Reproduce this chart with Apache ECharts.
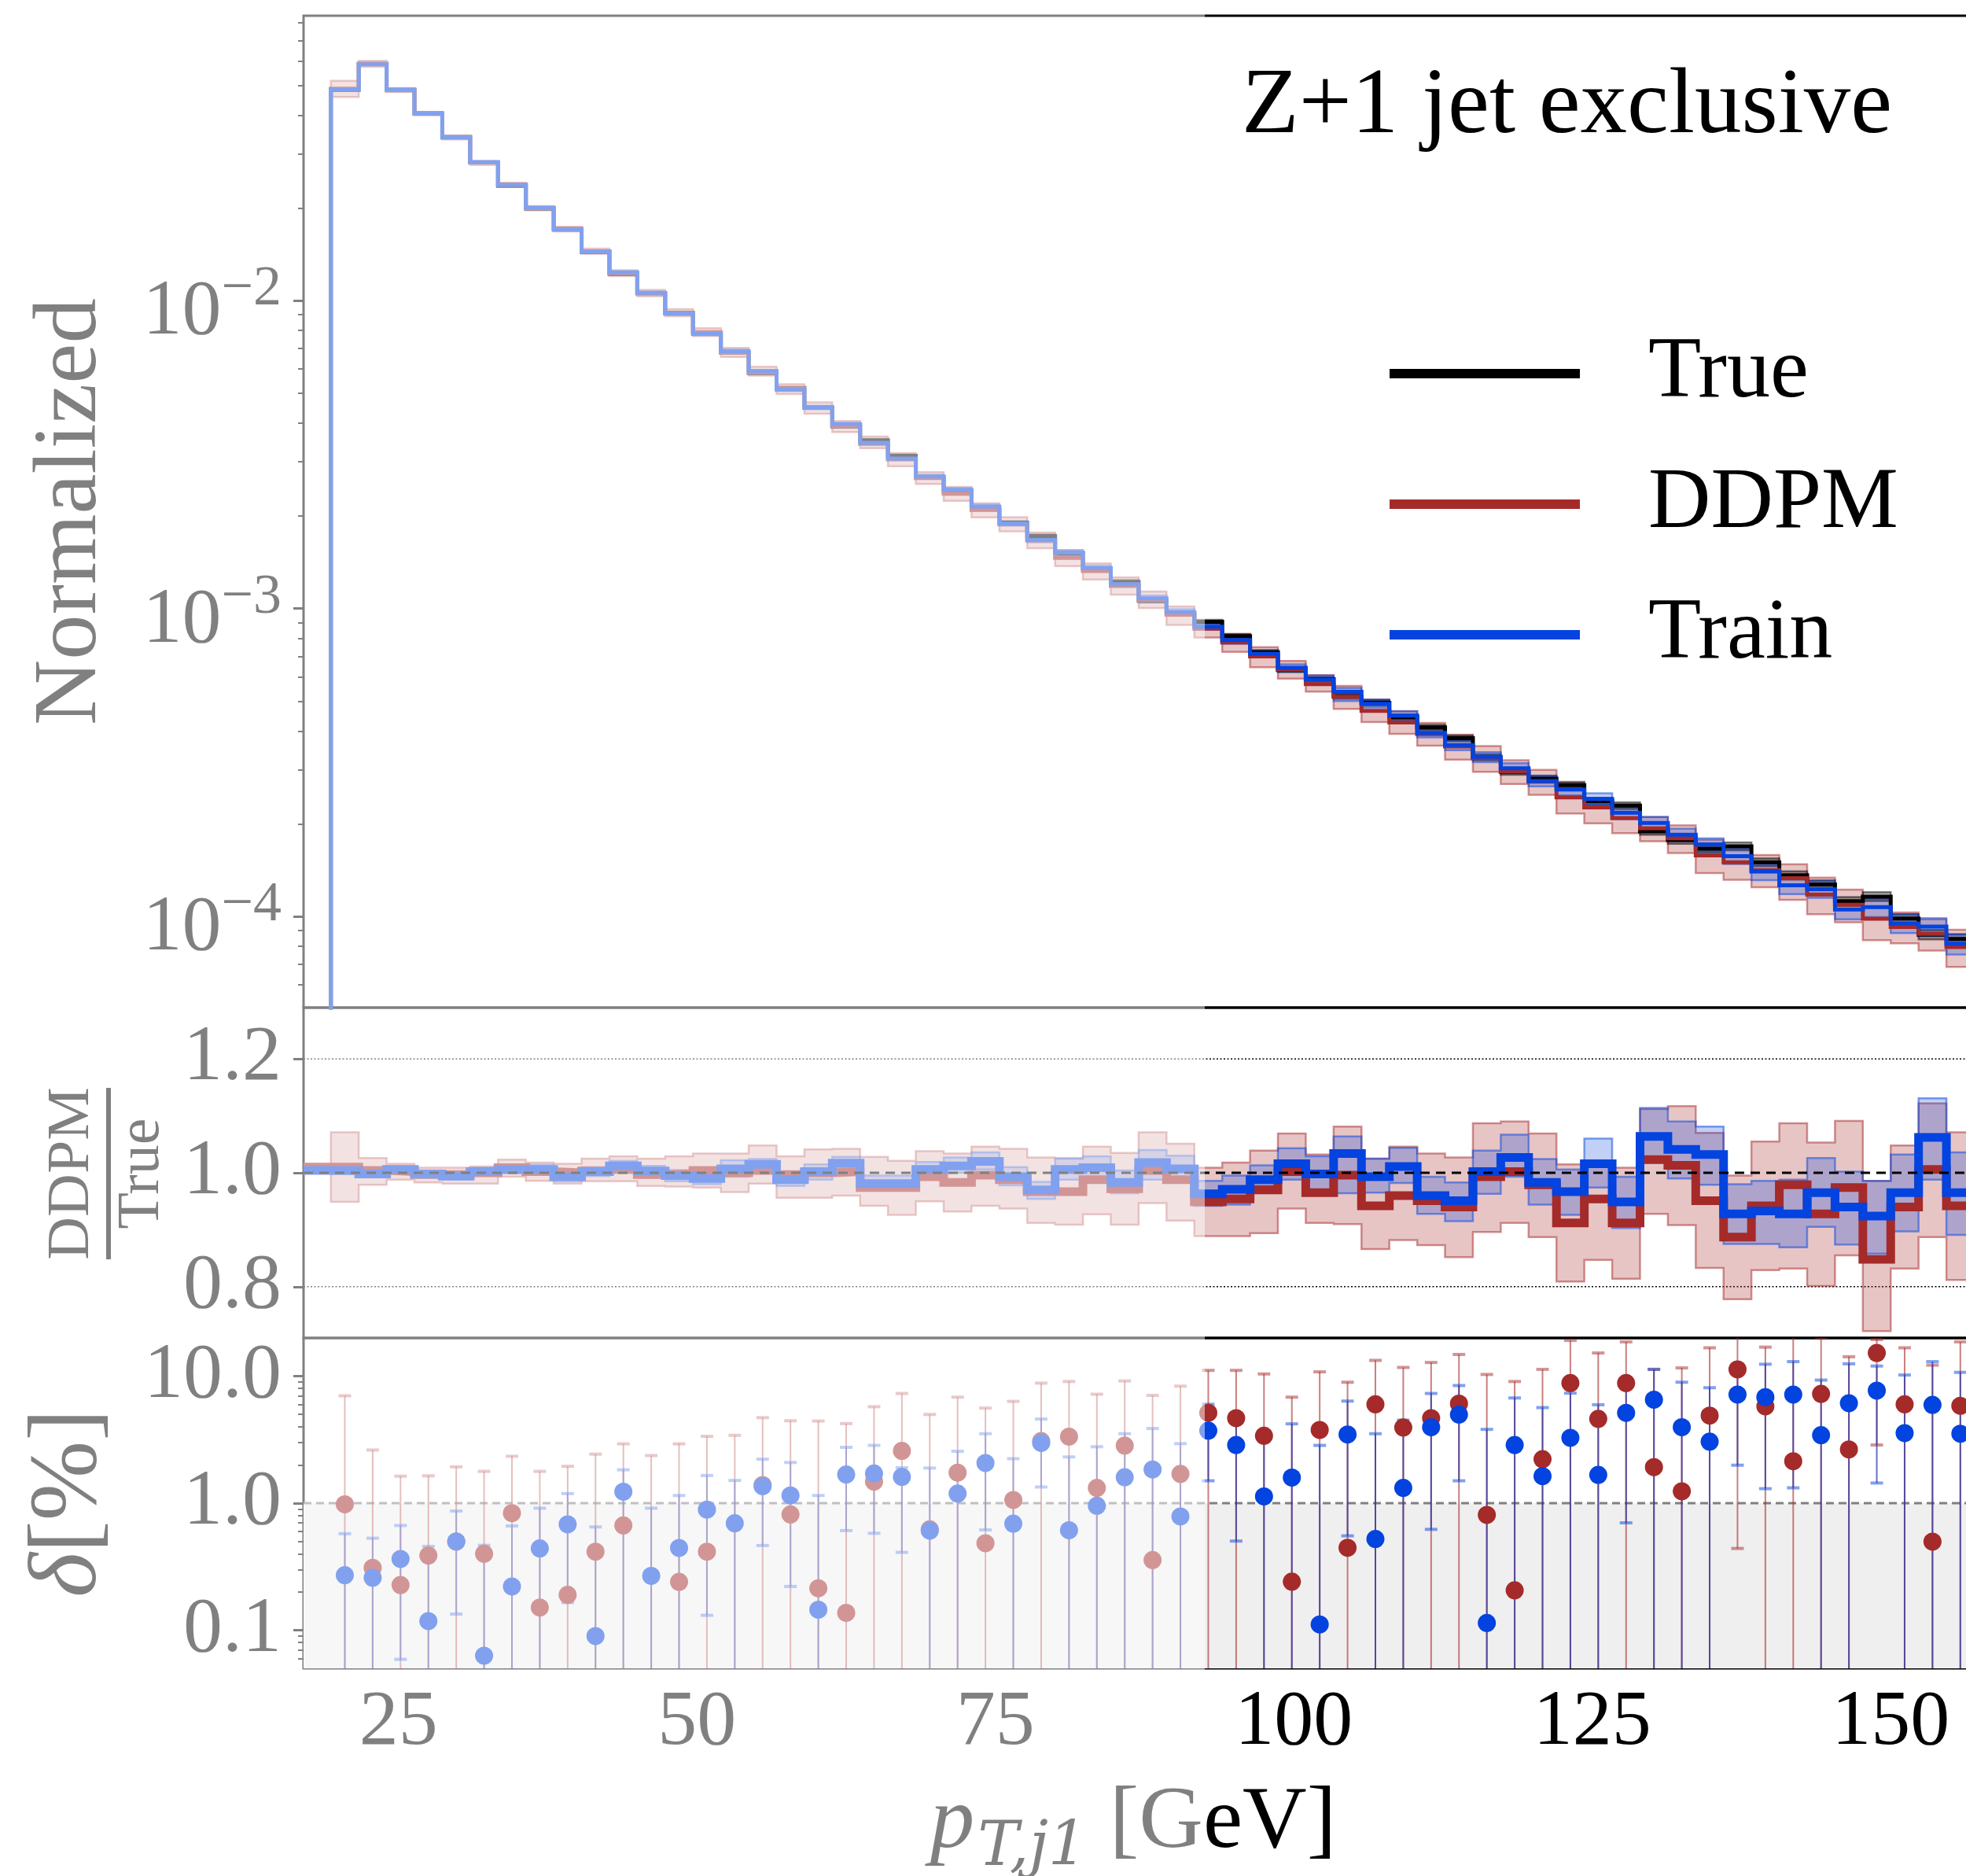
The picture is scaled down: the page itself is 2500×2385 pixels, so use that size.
<!DOCTYPE html>
<html>
<head>
<meta charset="utf-8">
<script src="https://cdn.jsdelivr.net/npm/echarts@6/dist/echarts.min.js"></script>
<style>
  html, body { margin: 0; padding: 0; background: #fff; }
  #chart { width: 2500px; height: 2385px; }
</style>
</head>
<body>
<div id="chart"></div>
<script>
// binning of p_T,j1 in GeV (first edge and width)
const firstEdge = 19.33;
const binWidth = 2.3333;
const nBins = 59;
const binEdges = [];
for (let i = 0; i <= nBins; i++) binEdges.push(+(firstEdge + i * binWidth).toFixed(3));

// normalized true distribution
const trueVals = [0.0483,0.0586,0.0482,0.0406,0.0340,0.0281,0.0236,0.0199,0.0171,0.0144,0.0122,0.01057,0.00912,0.00787,0.00679,0.00582,0.00520,0.00449,0.00390,0.00352,0.00313,0.00267,0.00240,0.00210,0.00190,0.00172,0.00151,0.00134,0.00122,0.00106,0.000966,
  0.000906,0.000813,0.000721,0.000632,0.000589,0.000519,0.000494,0.000444,0.000411,0.000379,0.000329,0.000295,0.000280,0.000267,0.000237,0.000229,0.000189,0.000177,0.000166,0.000169,0.000150,0.000136,0.000127,0.000112,0.000116,0.0000984,0.0000873,0.0000845];
const trueRelErr = [0.003,0.003,0.003,0.003,0.003,0.004,0.004,0.004,0.004,0.005,0.005,0.005,0.006,0.006,0.006,0.007,0.007,0.007,0.008,0.008,0.009,0.009,0.010,0.010,0.011,0.011,0.012,0.012,0.013,0.014,0.014,
  0.015,0.015,0.016,0.017,0.017,0.018,0.019,0.019,0.020,0.021,0.022,0.022,0.023,0.024,0.025,0.025,0.026,0.027,0.028,0.029,0.030,0.031,0.031,0.032,0.033,0.034,0.035,0.036];

// DDPM / True
const ddpmRatio = [1.010,1.004,1.002,0.997,0.997,1.000,1.009,1.002,1.000,1.003,1.006,0.997,0.998,1.004,1.000,1.004,0.997,1.000,1.002,0.974,0.974,0.993,0.983,0.996,0.988,0.967,0.967,0.988,0.972,1.004,0.988,
  0.949,0.954,0.970,1.002,0.965,0.996,0.942,0.960,0.951,0.940,0.993,1.002,0.979,0.912,0.954,0.912,1.023,1.013,0.951,0.887,0.942,0.979,0.928,0.974,0.848,0.940,1.006,0.942];
const ddpmRatioLo = [0.949,0.979,0.988,0.983,0.981,0.981,0.993,0.986,0.981,0.985,0.985,0.977,0.976,0.974,0.966,0.981,0.956,0.956,0.960,0.942,0.926,0.950,0.932,0.942,0.937,0.912,0.909,0.927,0.909,0.947,0.916,
  0.889,0.889,0.894,0.937,0.912,0.910,0.866,0.882,0.873,0.852,0.896,0.912,0.887,0.809,0.847,0.814,0.928,0.908,0.833,0.778,0.829,0.832,0.801,0.855,0.722,0.832,0.887,0.812];
const ddpmRatioHi = [1.071,1.026,1.016,1.009,1.009,1.011,1.023,1.018,1.016,1.025,1.029,1.025,1.029,1.034,1.034,1.048,1.029,1.041,1.042,1.028,1.021,1.038,1.034,1.046,1.042,1.027,1.026,1.046,1.035,1.071,1.051,
  1.009,1.018,1.039,1.069,1.032,1.081,1.025,1.046,1.034,1.027,1.087,1.090,1.069,1.015,1.013,1.009,1.112,1.117,1.070,0.995,1.055,1.087,1.053,1.091,0.986,1.048,1.122,1.071];

// Train / True
const trainRatio = [1.004,0.998,1.006,0.998,0.994,1.002,1.006,1.006,0.993,1.002,1.012,1.003,0.995,0.990,1.007,1.015,0.988,1.002,1.017,0.981,0.981,1.006,1.012,1.020,0.993,0.970,1.006,1.009,0.983,1.018,1.007,
  0.963,0.971,0.988,1.016,0.998,1.034,0.993,1.011,0.960,0.951,1.002,1.027,0.983,0.967,1.016,0.949,1.064,1.041,1.032,0.928,0.933,0.928,0.965,0.940,0.924,0.965,1.062,0.965];
const trainRatioLo = [0.998,0.992,1.000,0.992,0.988,0.995,0.999,0.998,0.985,0.994,1.003,0.994,0.985,0.980,0.993,1.006,0.977,0.988,1.008,0.970,0.970,0.993,1.000,1.006,0.978,0.954,0.988,0.989,0.964,0.988,0.989,
  0.942,0.944,0.977,0.988,0.967,0.964,0.965,0.982,0.928,0.915,0.963,0.993,0.944,0.926,0.974,0.903,1.018,0.990,0.979,0.875,0.875,0.869,0.905,0.874,0.858,0.897,0.988,0.891];
const trainRatioHi = [1.010,1.004,1.012,1.004,1.000,1.009,1.013,1.014,1.001,1.010,1.021,1.012,1.005,1.000,1.022,1.024,0.999,1.015,1.028,0.995,0.995,1.019,1.027,1.036,1.010,0.984,1.025,1.029,1.004,1.040,1.030,
  0.986,0.995,1.013,1.043,1.029,1.064,1.025,1.044,0.993,0.983,1.039,1.067,1.024,1.006,1.060,0.993,1.114,1.090,1.081,0.980,0.986,0.988,1.026,1.002,0.986,1.032,1.131,1.036];

// delta [%] points with error bars (null = below the panel)
const deltaDDPM = [0.98,0.31,0.227,0.387,0.498,0.40,0.835,0.151,0.19,0.415,0.668,null,0.24,0.415,null,1.39,0.816,0.214,0.137,1.48,2.58,0.622,1.74,0.484,1.06,3.08,3.34,1.32,2.84,0.357,1.70,
  5.14,4.67,3.39,0.241,3.77,0.446,6.0,3.94,4.67,6.07,0.808,0.206,2.22,8.81,4.61,8.81,1.92,1.24,4.89,11.3,5.78,2.14,7.25,2.65,15.2,6.0,0.498,5.84];
const deltaDDPMHi = [7.0,2.62,1.63,1.64,1.93,1.78,2.34,1.78,1.95,2.43,2.93,2.37,2.93,3.36,3.42,4.71,4.45,4.43,4.23,5.74,7.3,4.99,6.83,5.60,6.33,8.8,9.07,7.2,9.16,7.05,8.34,
  11.1,11.1,10.4,6.83,10.8,8.95,13.3,11.7,12.8,14.8,10.3,9.07,11.3,19.1,15.2,18.6,11.3,11.6,16.7,25,16.9,25,19.9,14.2,19.4,16.7,12.2,18.6];
const deltaDDPMLo = [null,null,null,null,null,null,null,null,null,null,null,null,null,null,null,null,null,null,null,null,null,null,null,null,null,null,null,null,null,null,null,
  null,null,null,null,null,null,null,null,null,null,null,null,null,null,null,null,null,null,null,0.44,null,null,null,null,2.87,null,null,null];
const deltaTrain = [0.271,0.259,0.364,0.118,0.50,0.063,0.221,0.44,0.681,0.090,1.23,0.268,0.444,0.89,0.695,1.36,1.15,0.145,1.68,1.71,1.61,0.608,1.19,2.07,0.69,2.98,0.612,0.954,1.60,1.84,0.785,
  3.72,2.87,1.13,1.59,0.111,3.47,0.522,1.32,3.96,4.98,0.114,2.87,1.63,3.27,1.67,5.14,6.52,3.96,3.05,7.16,6.83,7.16,3.43,6.12,7.69,3.56,5.93,3.52];
const deltaTrainHi = [0.575,0.53,0.667,0.457,0.867,0.466,0.662,0.913,1.19,0.65,1.83,0.913,1.15,1.65,1.51,2.22,2.09,1.15,2.75,2.85,1.90,1.89,2.56,3.52,2.24,4.59,2.31,2.78,3.52,3.87,2.94,
  6.0,5.0,3.2,4.21,2.85,6.36,3.52,4.5,7.3,8.43,3.81,6.73,5.65,7.34,5.95,9.5,11.3,8.95,8.1,12.4,12.4,13.0,9.3,12.5,12.0,10.2,13.0,10.7];
const deltaTrainLo = [null,null,0.059,null,0.134,null,null,null,0.165,null,null,null,null,0.131,null,0.464,0.221,null,0.608,0.579,0.41,null,null,0.616,null,1.34,null,null,null,null,null,
  1.50,0.503,null,null,null,0.553,null,null,0.622,1.50,null,null,null,null,null,0.70,null,null,null,1.99,1.30,1.32,null,null,1.44,null,null,null];

// ticks
const xTicks = [25, 50, 75, 100, 125, 150];
const mainTicks = [1e-4, 1e-3, 1e-2];
const ratioTicks = [0.8, 1.0, 1.2];
const deltaTicks = [0.1, 1.0, 10.0];

const X_MIN = 17.04, X_MAX = 160;
const ff = "'Liberation Serif', 'DejaVu Serif', serif";
const mathFF = "'DejaVu Serif', serif";
const RED = '#a52a2a', BLUE = '#0343df';
const lg = v => Math.log10(v);
const id = v => v;

const chart = echarts.init(document.getElementById('chart'));

function stepData(vals, tf, lead) {
  const d = [];
  if (lead) d.push(lead);
  vals.forEach((v, i) => d.push([binEdges[i], tf(v)]));
  d.push([binEdges[vals.length], tf(vals[vals.length - 1])]);
  return d;
}

function stepLine(name, xi, yi, data, color, width, z) {
  return {
    name: name, type: 'line', xAxisIndex: xi, yAxisIndex: yi, step: 'end',
    data: data, showSymbol: false, symbol: 'none', z: z, silent: true, animation: false,
    lineStyle: { color: color, width: width, join: 'miter' }, itemStyle: { color: color }
  };
}

function band(xi, yi, lo, hi, tf, fill, stroke, z) {
  return {
    type: 'custom', xAxisIndex: xi, yAxisIndex: yi, z: z, silent: true, clip: true, animation: false,
    data: [[binEdges[0], tf(lo[0])]],
    renderItem: function (params, api) {
      const up = [], dn = [];
      for (let i = 0; i < lo.length; i++) {
        up.push(api.coord([binEdges[i], tf(hi[i])]));
        up.push(api.coord([binEdges[i + 1], tf(hi[i])]));
        dn.push(api.coord([binEdges[i], tf(lo[i])]));
        dn.push(api.coord([binEdges[i + 1], tf(lo[i])]));
      }
      return { type: 'polygon', shape: { points: up.concat(dn.reverse()) },
               style: { fill: fill, stroke: stroke, lineWidth: 2.5 } };
    }
  };
}

function errBars(vals, lo, hi, lineCol, capCol, z) {
  const data = vals.map((v, i) => [(binEdges[i] + binEdges[i + 1]) / 2, lo[i] == null ? -5 : lg(lo[i]), lg(hi[i])]);
  return {
    type: 'custom', xAxisIndex: 2, yAxisIndex: 3, z: z, silent: true, clip: true, animation: false,
    data: data,
    renderItem: function (params, api) {
      const cs = params.coordSys;
      const top = cs.y, bot = cs.y + cs.height;
      const pHi = api.coord([api.value(0), api.value(2)]);
      const pLo = api.coord([api.value(0), api.value(1)]);
      const x = pHi[0];
      const kids = [{ type: 'line', shape: { x1: x, y1: Math.min(pLo[1], bot), x2: x, y2: Math.max(pHi[1], top) },
                      style: { stroke: lineCol, lineWidth: 2 } }];
      if (pHi[1] >= top) kids.push({ type: 'rect', shape: { x: x - 8, y: pHi[1] - 2, width: 16, height: 4 }, style: { fill: capCol } });
      if (pLo[1] <= bot) kids.push({ type: 'rect', shape: { x: x - 8, y: pLo[1] - 2, width: 16, height: 4 }, style: { fill: capCol } });
      return { type: 'group', children: kids };
    }
  };
}

function points(vals, color, z) {
  const data = [];
  vals.forEach((v, i) => { if (v != null) data.push([(binEdges[i] + binEdges[i + 1]) / 2, lg(v)]); });
  return { type: 'scatter', xAxisIndex: 2, yAxisIndex: 3, data: data, symbolSize: 23, z: z,
           silent: true, animation: false, itemStyle: { color: color, opacity: 1 } };
}

const ddpmVals = trueVals.map((t, i) => t * ddpmRatio[i]);
const trainVals = trueVals.map((t, i) => t * trainRatio[i]);

function minorLogTicks(lo, hi) {
  const out = [];
  for (let e = -6; e <= 2; e++) for (let m = 2; m <= 9; m++) {
    const v = e + lg(m);
    if (v > lo && v < hi) out.push(v);
  }
  return out;
}

const mainMin = -4.296, mainMax = -1.075;
const deltaMin = -1.3, deltaMax = 1.3;
const gridW = (X_MAX - X_MIN) * 15.18;

const tickStyle = { color: '#000', width: 3 };
const labelBase = { fontSize: 100, fontFamily: ff, color: '#000', margin: 28 };

const xAxisBase = { type: 'value', min: X_MIN, max: X_MAX, axisLine: { show: false }, splitLine: { show: false } };
const gridBase = { left: 386, width: gridW, show: true, borderColor: '#000', borderWidth: 3,
                   backgroundColor: 'transparent', outerBoundsMode: 'none', containLabel: false };

const option = {
  backgroundColor: '#fff',
  animation: false,
  title: {
    text: 'Z+1 jet exclusive', left: 1579, top: 77, padding: 0,
    textStyle: { fontSize: 119, fontFamily: ff, fontWeight: 'normal', color: '#000' }
  },
  legend: {
    data: ['True', 'DDPM', 'Train'], orient: 'vertical', left: 1767, top: 412, padding: 0,
    icon: 'rect', itemWidth: 242, itemHeight: 12, itemGap: 40, selectedMode: false,
    itemStyle: { borderWidth: 0 },
    textStyle: { fontSize: 110, fontFamily: ff, color: '#000', lineHeight: 110, padding: [16, 0, 0, 82] }
  },
  grid: [
    Object.assign({ top: 20, height: 1261 }, gridBase),
    Object.assign({ top: 1281, height: 420 }, gridBase),
    Object.assign({ top: 1701, height: 420 }, gridBase)
  ],
  xAxis: [
    Object.assign({ gridIndex: 0, axisTick: { show: false }, axisLabel: { show: false } }, xAxisBase),
    Object.assign({ gridIndex: 1, axisTick: { show: false }, axisLabel: { show: false } }, xAxisBase),
    Object.assign({
      gridIndex: 2,
      axisTick: { customValues: xTicks, length: 13, lineStyle: tickStyle },
      axisLabel: Object.assign({ customValues: xTicks }, labelBase, { margin: 20 }),
      name: '{p|p}{s|T,j1}{g| [GeV]}', nameLocation: 'middle', nameGap: 141,
      nameTextStyle: {
        padding: [0, 60, 0, 0],
        rich: {
          p: { fontSize: 113, lineHeight: 113, fontStyle: 'italic', fontFamily: ff, color: '#000', verticalAlign: 'top' },
          s: { fontSize: 78, lineHeight: 78, fontStyle: 'italic', fontFamily: mathFF, color: '#000', verticalAlign: 'top', padding: [50, 0, 0, 4] },
          g: { fontSize: 113, lineHeight: 113, fontFamily: ff, color: '#000', verticalAlign: 'top' }
        }
      }
    }, xAxisBase)
  ],
  yAxis: [
    {
      gridIndex: 0, type: 'value', min: mainMin, max: mainMax,
      axisLine: { show: false }, splitLine: { show: false },
      axisTick: { customValues: mainTicks.map(lg), length: 13, lineStyle: tickStyle },
      axisLabel: {
        customValues: mainTicks.map(lg), margin: 28,
        formatter: v => '{b|10}{s|\u2212' + Math.round(-v) + '}',
        rich: {
          b: { fontSize: 100, lineHeight: 100, fontFamily: ff, color: '#000', verticalAlign: 'top', padding: [16, 0, 0, 0] },
          s: { fontSize: 72, lineHeight: 72, fontFamily: ff, color: '#000', verticalAlign: 'top' }
        }
      },
      name: 'Normalized', nameLocation: 'middle', nameRotate: 90, nameGap: 238,
      nameTextStyle: { fontSize: 115, fontFamily: ff, color: '#000' }
    },
    {
      gridIndex: 0, type: 'value', min: mainMin, max: mainMax, position: 'left',
      axisLine: { show: false }, splitLine: { show: false }, axisLabel: { show: false },
      axisTick: { customValues: minorLogTicks(mainMin, mainMax), length: 7, lineStyle: { color: '#000', width: 2 } }
    },
    {
      gridIndex: 1, type: 'value', min: 0.71, max: 1.29,
      axisLine: { show: false }, splitLine: { show: false },
      axisTick: { customValues: ratioTicks, length: 13, lineStyle: tickStyle },
      axisLabel: Object.assign({ customValues: ratioTicks, formatter: v => v.toFixed(1) }, labelBase)
    },
    {
      gridIndex: 2, type: 'value', min: deltaMin, max: deltaMax,
      axisLine: { show: false }, splitLine: { show: false },
      axisTick: { customValues: deltaTicks.map(lg), length: 13, lineStyle: tickStyle },
      axisLabel: Object.assign({ customValues: deltaTicks.map(lg), formatter: v => Math.pow(10, v).toFixed(1) }, labelBase),
      name: '{d|\u03b4}[%]', nameLocation: 'middle', nameRotate: 90, nameGap: 236,
      nameTextStyle: { fontSize: 122, fontFamily: ff, color: '#000',
                       rich: { d: { fontSize: 122, fontFamily: ff, fontStyle: 'italic', color: '#000' } } }
    },
    {
      gridIndex: 2, type: 'value', min: deltaMin, max: deltaMax, position: 'left',
      axisLine: { show: false }, splitLine: { show: false }, axisLabel: { show: false },
      axisTick: { customValues: minorLogTicks(deltaMin, deltaMax), length: 7, lineStyle: { color: '#000', width: 2 } }
    }
  ],
  series: [
    // main panel
    band(0, 0, trueVals.map((t, i) => t * ddpmRatioLo[i]), trueVals.map((t, i) => t * ddpmRatioHi[i]), lg, 'rgba(165,42,42,0.27)', 'rgba(165,42,42,0.5)', 2),
    band(0, 0, trueVals.map((t, i) => t * (1 - trueRelErr[i])), trueVals.map((t, i) => t * (1 + trueRelErr[i])), lg, 'rgba(0,0,0,0.3)', 'rgba(0,0,0,0.5)', 3),
    band(0, 0, trueVals.map((t, i) => t * trainRatioLo[i]), trueVals.map((t, i) => t * trainRatioHi[i]), lg, 'rgba(3,67,223,0.25)', 'rgba(3,67,223,0.5)', 3),
    stepLine('True', 0, 0, stepData(trueVals, lg, [binEdges[0], -8]), '#000', 5, 5),
    stepLine('DDPM', 0, 0, stepData(ddpmVals, lg, [binEdges[0], -8]), RED, 5, 6),
    stepLine('Train', 0, 0, stepData(trainVals, lg, [binEdges[0], -8]), BLUE, 5, 7),

    // ratio panel
    band(1, 2, ddpmRatioLo, ddpmRatioHi, id, 'rgba(165,42,42,0.27)', 'rgba(165,42,42,0.5)', 2),
    band(1, 2, trainRatioLo, trainRatioHi, id, 'rgba(3,67,223,0.25)', 'rgba(3,67,223,0.5)', 3),
    stepLine('ddpm ratio', 1, 2, stepData(ddpmRatio, id, [X_MIN, ddpmRatio[0]]), RED, 11, 6),
    stepLine('train ratio', 1, 2, stepData(trainRatio, id, [X_MIN, trainRatio[0]]), BLUE, 11, 7),
    { type: 'line', xAxisIndex: 1, yAxisIndex: 2, data: [[X_MIN, 1], [X_MAX, 1]], showSymbol: false, silent: true, z: 9,
      lineStyle: { color: '#000', width: 3, type: [12, 8] } },
    { type: 'line', xAxisIndex: 1, yAxisIndex: 2, data: [[X_MIN, 1.2], [X_MAX, 1.2]], showSymbol: false, silent: true, z: 1,
      lineStyle: { color: '#000', width: 1.5, type: [2, 2.5] } },
    { type: 'line', xAxisIndex: 1, yAxisIndex: 2, data: [[X_MIN, 0.8], [X_MAX, 0.8]], showSymbol: false, silent: true, z: 1,
      lineStyle: { color: '#000', width: 1.5, type: [2, 2.5] } },

    // delta panel
    { type: 'line', xAxisIndex: 2, yAxisIndex: 3, data: [[X_MIN, 0], [X_MAX, 0]], showSymbol: false, silent: true, z: 1,
      lineStyle: { color: '#808080', width: 3, type: [10, 6] }, areaStyle: { origin: 'start', color: '#efefef', opacity: 1 } },
    errBars(deltaDDPM, deltaDDPMLo, deltaDDPMHi, 'rgba(165,42,42,0.6)', 'rgba(165,42,42,0.5)', 3),
    errBars(deltaTrain, deltaTrainLo, deltaTrainHi, 'rgba(40,50,170,0.7)', 'rgba(3,67,223,0.5)', 4),
    points(deltaDDPM, RED, 5),
    points(deltaTrain, BLUE, 6)
  ],
  graphic: [
    {
      type: 'group', x: 138, y: 1492, rotation: Math.PI / 2, z: 50,
      children: [
        { type: 'text', x: 0, y: -46, style: { text: 'DDPM', fontSize: 76, fontFamily: ff, fill: '#000', align: 'center', verticalAlign: 'middle' } },
        { type: 'line', shape: { x1: -109, y1: 0, x2: 109, y2: 0 }, style: { stroke: '#000', lineWidth: 6 } },
        { type: 'text', x: 0, y: 43, style: { text: 'True', fontSize: 76, fontFamily: ff, fill: '#000', align: 'center', verticalAlign: 'middle' } }
      ]
    },
    // faded left part of the figure
    { type: 'rect', shape: { x: 0, y: 0, width: 1532, height: 2385 }, style: { fill: 'rgba(255,255,255,0.5)' }, z: 1000, silent: true }
  ]
};

chart.setOption(option);
</script>
</body>
</html>
